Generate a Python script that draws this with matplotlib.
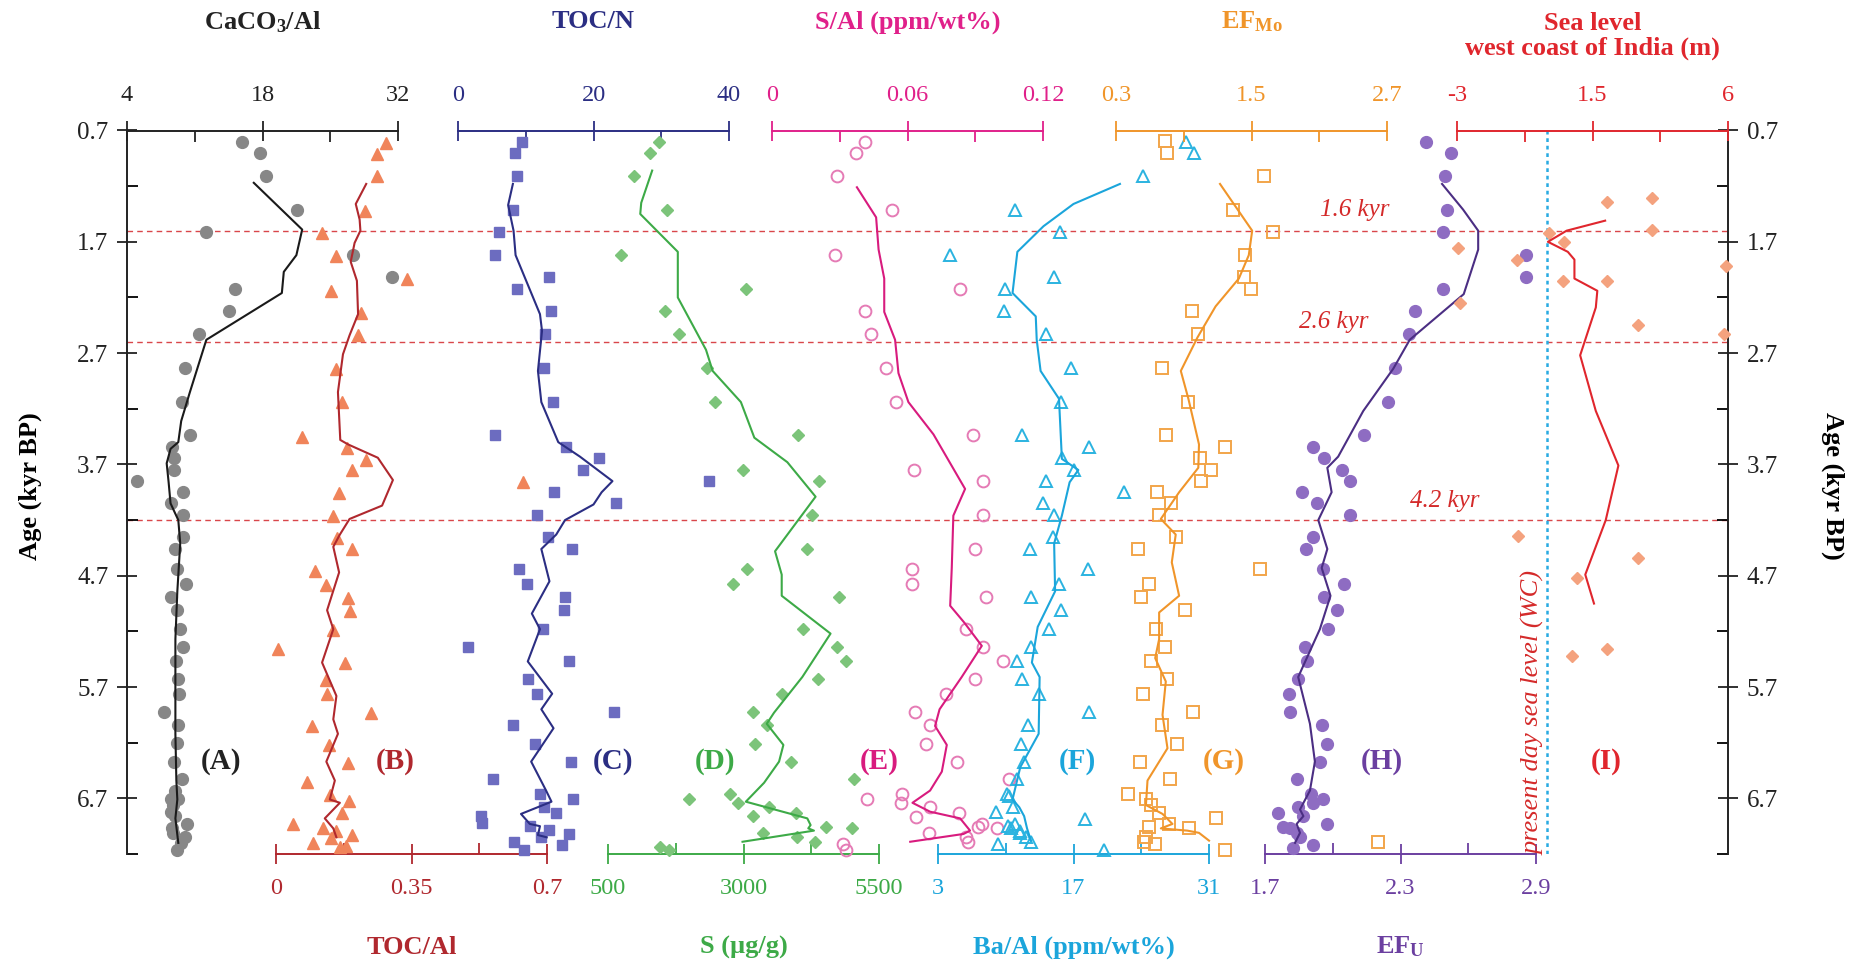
import matplotlib
matplotlib.use('Agg')
import matplotlib.pyplot as plt
import matplotlib.ticker as mticker

plt.rcParams['font.family'] = ['Liberation Serif', 'DejaVu Serif']
plt.rcParams['mathtext.fontset'] = 'custom'
plt.rcParams['mathtext.rm'] = 'Liberation Serif'
plt.rcParams['mathtext.bf'] = 'Liberation Serif:bold'
plt.rcParams['mathtext.it'] = 'Liberation Serif:italic'

# ---------------- data (age in kyr BP) ----------------
# (A) CaCO3/Al
caco3_age = [0.80, 0.90, 1.11, 1.41, 1.61, 1.82, 2.02, 2.12, 2.32, 2.53, 2.83, 3.14,
             3.44, 3.54, 3.64, 3.75, 3.85, 3.95, 4.05, 4.15, 4.35, 4.46, 4.64, 4.77,
             4.89, 5.01, 5.18, 5.34, 5.47, 5.63, 5.76, 5.92, 6.04, 6.20, 6.37, 6.53,
             6.63, 6.71, 6.71, 6.76, 6.82, 6.86, 6.93, 6.97, 7.01, 7.05, 7.10, 7.16]
caco3_val = [15.9, 17.7, 18.4, 21.6, 12.2, 27.4, 31.4, 15.2, 14.5, 11.4, 10.0, 9.7,
             10.5, 8.6, 8.9, 8.9, 5.0, 9.8, 8.5, 9.8, 9.8, 9.0, 9.2, 10.1,
             8.5, 9.2, 9.5, 9.8, 9.1, 9.3, 9.4, 7.8, 9.3, 9.2, 8.9, 9.7,
             9.0, 8.5, 9.3, 8.8, 8.5, 9.0, 10.2, 8.7, 8.8, 10.0, 9.6, 9.2]
caco3_line_age = [1.17, 1.59, 1.82, 1.97, 2.16, 2.58, 3.05, 3.31, 3.50, 3.56, 3.69, 3.86,
                  4.05, 4.20, 4.41, 4.84, 5.27, 5.70, 6.12, 6.54, 6.71, 6.88, 7.10]
caco3_line_val = [17.1, 22.1, 21.5, 20.2, 20.0, 12.2, 10.5, 9.6, 9.3, 8.5, 8.1, 8.3,
                  8.5, 9.3, 9.5, 9.2, 9.0, 9.0, 9.0, 9.1, 9.2, 9.0, 9.3]

# (B) TOC/Al
tocal_age = [0.81, 0.91, 1.11, 1.42, 1.62, 1.83, 2.03, 2.14, 2.34, 2.54, 2.84, 3.14,
             3.45, 3.55, 3.66, 3.75, 3.86, 3.96, 4.16, 4.36, 4.46, 4.66, 4.78, 4.90,
             5.02, 5.19, 5.36, 5.48, 5.64, 5.76, 5.93, 6.05, 6.22, 6.38, 6.55, 6.67,
             6.72, 6.83, 6.93, 6.97, 6.99, 7.03, 7.06, 7.10, 7.13, 7.14]
tocal_val = [0.285, 0.261, 0.262, 0.229, 0.119, 0.154, 0.338, 0.142, 0.220, 0.212, 0.156, 0.171,
             0.068, 0.184, 0.233, 0.196, 0.638, 0.163, 0.148, 0.158, 0.196, 0.100, 0.128, 0.186,
             0.190, 0.148, 0.004, 0.179, 0.130, 0.132, 0.246, 0.093, 0.136, 0.186, 0.081, 0.139,
             0.188, 0.171, 0.043, 0.122, 0.156, 0.196, 0.143, 0.096, 0.182, 0.165]
tocal_line_age = [1.18, 1.36, 1.50, 1.60, 1.71, 1.88, 2.05, 2.35, 2.54, 2.71, 3.05, 3.48,
                  3.52, 3.64, 3.84, 4.07, 4.19, 4.33, 4.44, 4.67, 5.01, 5.18, 5.48, 5.78,
                  5.99, 6.12, 6.37, 6.54, 6.71, 6.74, 6.88, 6.97, 7.05]
tocal_line_val = [0.233, 0.206, 0.216, 0.218, 0.203, 0.193, 0.209, 0.212, 0.190, 0.173, 0.160, 0.166,
                  0.186, 0.263, 0.302, 0.274, 0.190, 0.165, 0.148, 0.163, 0.132, 0.148, 0.119, 0.156,
                  0.148, 0.160, 0.130, 0.152, 0.139, 0.165, 0.126, 0.148, 0.156]

# (C) TOC/N
tocn_age = [0.80, 0.90, 1.11, 1.41, 1.61, 1.82, 2.02, 2.12, 2.32, 2.53, 2.83, 3.14,
            3.44, 3.54, 3.64, 3.75, 3.85, 3.95, 4.05, 4.15, 4.35, 4.46, 4.64, 4.77,
            4.89, 5.01, 5.18, 5.34, 5.47, 5.63, 5.76, 5.92, 6.04, 6.21, 6.37, 6.53,
            6.66, 6.71, 6.78, 6.83, 6.86, 6.92, 6.95, 6.98, 7.02, 7.05, 7.09, 7.12, 7.16]
tocn_val = [9.5, 8.4, 8.7, 8.1, 6.1, 5.5, 13.5, 8.7, 13.7, 12.9, 12.7, 14.0,
            5.4, 15.9, 20.8, 18.4, 37.1, 14.1, 23.3, 11.7, 13.3, 16.9, 9.0, 10.2,
            15.8, 15.6, 12.6, 1.5, 16.4, 10.4, 11.6, 23.0, 8.1, 11.3, 16.7, 5.2,
            12.1, 17.0, 12.7, 14.4, 3.4, 3.6, 10.7, 13.4, 16.4, 12.3, 8.3, 15.3, 9.7]
tocn_line_age = [1.18, 1.37, 1.60, 1.82, 2.35, 2.50, 2.86, 3.14, 3.50, 3.63, 3.85, 3.95,
                 4.06, 4.20, 4.33, 4.46, 4.75, 5.04, 5.18, 5.47, 5.76, 5.90, 6.07, 6.37,
                 6.63, 6.73, 6.84, 6.93, 6.95, 7.03, 7.05]
tocn_line_val = [8.1, 7.4, 8.2, 8.5, 12.1, 12.4, 11.8, 12.3, 14.8, 18.0, 22.8, 21.2,
                 20.0, 15.8, 14.5, 12.3, 13.5, 10.9, 12.1, 10.3, 13.9, 12.3, 14.1, 10.8,
                 13.0, 13.8, 9.3, 10.6, 12.1, 11.8, 13.1]

# (D) S (ug/g)
s_age = [0.80, 0.90, 1.11, 1.41, 1.82, 2.12, 2.32, 2.53, 2.83, 3.14, 3.44, 3.75,
         3.85, 4.15, 4.46, 4.64, 4.77, 4.89, 5.18, 5.34, 5.47, 5.63, 5.76, 5.92,
         6.04, 6.21, 6.37, 6.53, 6.66, 6.71, 6.74, 6.78, 6.83, 6.86, 6.96, 6.97,
         7.01, 7.05, 7.09, 7.14, 7.16]
s_val = [1450, 1266, 978, 1585, 733, 3044, 1548, 1818, 2321, 2480, 4011, 2995,
         4392, 4257, 4165, 3068, 2811, 4759, 4103, 4729, 4894, 4379, 3705, 3167,
         3429, 3216, 3870, 5035, 2750, 1990, 2903, 3472, 3962, 3170, 4526, 5005,
         3362, 3993, 4318, 1462, 1622]
s_line_age = [1.06, 1.35, 1.45, 1.79, 2.20, 2.67, 2.86, 3.14, 3.46, 3.68, 3.99, 4.48,
              4.69, 4.88, 5.22, 5.61, 5.93, 6.03, 6.22, 6.37, 6.56, 6.73, 6.88, 6.94,
              6.97, 6.99, 7.09]
s_line_val = [1315, 1113, 1095, 1788, 1788, 2308, 2431, 2952, 3200, 3809, 4330, 3582,
              3705, 3705, 4606, 4085, 3564, 3429, 3736, 3656, 3380, 3043, 4177, 4238,
              4195, 4300, 2982]

# (E) S/Al (ppm/wt%)
sal_age = [0.80, 0.90, 1.11, 1.41, 1.82, 2.12, 2.32, 2.53, 2.83, 3.14, 3.44, 3.75,
           3.85, 4.15, 4.46, 4.64, 4.77, 4.89, 5.18, 5.34, 5.47, 5.63, 5.76, 5.92,
           6.04, 6.21, 6.37, 6.53, 6.66, 6.71, 6.74, 6.78, 6.83, 6.87, 6.93, 6.96,
           6.97, 7.01, 7.05, 7.09, 7.11, 7.16]
sal_val = [0.0410, 0.0373, 0.0290, 0.0531, 0.0280, 0.0833, 0.0410, 0.0438, 0.0506, 0.0550, 0.0888, 0.0630,
           0.0936, 0.0933, 0.0898, 0.0619, 0.0619, 0.0948, 0.0859, 0.0936, 0.1022, 0.0899, 0.0771, 0.0631,
           0.0700, 0.0680, 0.0818, 0.1050, 0.0575, 0.0420, 0.0572, 0.0700, 0.0826, 0.0638, 0.0929, 0.0914,
           0.0998, 0.0696, 0.0858, 0.0867, 0.0314, 0.0329]
sal_line_age = [1.21, 1.48, 1.77, 2.03, 2.33, 2.58, 2.88, 3.14, 3.43, 3.92, 4.16, 4.63,
                4.97, 5.12, 5.33, 5.61, 5.90, 6.05, 6.22, 6.46, 6.63, 6.74, 6.82, 6.88,
                6.99, 7.02, 7.09]
sal_line_val = [0.0376, 0.0461, 0.0472, 0.0497, 0.0497, 0.0545, 0.0560, 0.0604, 0.0715, 0.0855, 0.0803, 0.0796,
                0.0789, 0.0851, 0.0929, 0.0840, 0.0742, 0.0722, 0.0774, 0.0752, 0.0700, 0.0622, 0.0700, 0.0833,
                0.0877, 0.0848, 0.0612]

# (F) Ba/Al (ppm/wt%)
baal_age = [0.80, 0.90, 1.11, 1.41, 1.61, 1.82, 2.02, 2.12, 2.32, 2.53, 2.83, 3.14,
            3.44, 3.54, 3.64, 3.75, 3.85, 3.95, 4.05, 4.15, 4.35, 4.46, 4.64, 4.77,
            4.89, 5.01, 5.18, 5.34, 5.47, 5.63, 5.76, 5.92, 6.04, 6.21, 6.37, 6.53,
            6.66, 6.68, 6.78, 6.82, 6.89, 6.93, 6.95, 6.97, 6.99, 7.01, 7.05, 7.09,
            7.11, 7.16]
baal_val = [28.6, 29.5, 24.2, 11.0, 15.6, 4.2, 15.0, 9.9, 9.8, 14.2, 16.7, 15.7,
            11.7, 18.6, 15.8, 17.0, 14.2, 22.2, 13.8, 15.0, 14.9, 12.5, 18.5, 15.5,
            12.6, 15.7, 14.5, 12.6, 11.2, 11.7, 13.4, 18.6, 12.3, 11.6, 11.9, 11.2,
            10.1, 10.3, 10.8, 9.0, 18.2, 11.0, 10.2, 10.5, 11.5, 11.5, 12.1, 12.6,
            9.2, 20.1]
baal_line_age = [1.18, 1.36, 1.56, 1.79, 2.16, 2.37, 2.58, 2.86, 3.11, 3.65, 3.75, 3.86,
                 4.16, 4.41, 4.84, 5.16, 5.48, 5.61, 6.12, 6.42, 6.71, 6.78, 6.86, 6.97, 7.08]
baal_line_val = [21.8, 17.0, 13.9, 11.2, 10.7, 13.1, 13.2, 13.6, 15.5, 15.8, 17.5, 16.6,
                 15.8, 15.0, 15.1, 13.3, 12.7, 13.5, 13.4, 11.5, 10.7, 11.4, 11.9, 12.2, 12.6]

# (G) EF Mo
efmo_age = [0.79, 0.90, 1.11, 1.41, 1.61, 1.82, 2.02, 2.12, 2.32, 2.53, 2.83, 3.14,
            3.44, 3.54, 3.64, 3.75, 3.85, 3.95, 4.05, 4.15, 4.35, 4.46, 4.64, 4.77,
            4.89, 5.01, 5.18, 5.34, 5.47, 5.63, 5.76, 5.92, 6.04, 6.21, 6.37, 6.53,
            6.66, 6.71, 6.76, 6.83, 6.88, 6.93, 6.96, 6.97, 7.05, 7.09, 7.09, 7.11, 7.16]
efmo_val = [0.732, 0.756, 1.609, 1.338, 1.688, 1.441, 1.438, 1.497, 0.976, 1.026, 0.703, 0.941,
            0.741, 1.265, 1.041, 1.144, 1.050, 0.662, 0.785, 0.682, 0.829, 0.491, 1.579, 0.588,
            0.521, 0.909, 0.653, 0.732, 0.609, 0.756, 0.541, 0.982, 0.703, 0.844, 0.512, 0.776,
            0.409, 0.565, 0.609, 0.682, 1.188, 0.771, 0.594, 0.947, 0.565, 0.550, 2.62, 0.644, 1.262]
efmo_line_age = [1.18, 1.60, 1.82, 2.03, 2.28, 2.56, 2.86, 3.11, 3.52, 3.73, 3.95, 4.19,
                 4.33, 4.58, 4.88, 5.03, 5.27, 5.44, 5.65, 5.95, 6.25, 6.54, 6.76, 6.84,
                 6.93, 6.97, 6.99, 7.01, 7.08]
efmo_line_val = [1.221, 1.506, 1.476, 1.388, 1.182, 1.021, 0.874, 0.941, 1.035, 1.029, 0.859, 0.697,
                 0.829, 0.794, 0.859, 0.682, 0.682, 0.647, 0.741, 0.712, 0.756, 0.579, 0.565, 0.712,
                 0.800, 0.697, 0.932, 1.035, 1.124]

# (H) EF U
efu_age = [0.80, 0.90, 1.11, 1.41, 1.61, 1.82, 2.02, 2.12, 2.32, 2.53, 2.83, 3.14,
           3.44, 3.54, 3.64, 3.75, 3.85, 3.95, 4.05, 4.15, 4.35, 4.46, 4.64, 4.77,
           4.89, 5.01, 5.18, 5.34, 5.47, 5.63, 5.76, 5.92, 6.04, 6.21, 6.37, 6.53,
           6.66, 6.71, 6.74, 6.78, 6.83, 6.86, 6.93, 6.96, 6.97, 7.01, 7.05, 7.12, 7.15]
efu_val = [2.411, 2.524, 2.498, 2.508, 2.489, 2.854, 2.857, 2.489, 2.366, 2.338, 2.276, 2.245,
           2.139, 1.911, 1.961, 2.042, 2.076, 1.864, 1.929, 2.076, 1.911, 1.881, 1.955, 2.051,
           1.961, 2.017, 1.977, 1.877, 1.884, 1.847, 1.808, 1.811, 1.954, 1.973, 1.943, 1.843,
           1.903, 1.958, 1.914, 1.847, 1.759, 1.870, 1.973, 1.778, 1.811, 1.840, 1.855, 1.914, 1.825]
efu_line_age = [1.18, 1.41, 1.60, 1.77, 2.17, 2.58, 2.84, 3.22, 3.63, 3.73, 3.95, 4.20,
                4.46, 4.63, 4.88, 5.18, 5.61, 6.03, 6.37, 6.63, 6.80, 6.86, 6.93, 7.01, 7.10]
efu_line_val = [2.484, 2.577, 2.644, 2.644, 2.580, 2.341, 2.268, 2.135, 2.024, 1.976, 1.995, 1.936,
                1.976, 1.951, 1.990, 1.943, 1.847, 1.899, 1.921, 1.899, 1.855, 1.870, 1.840, 1.855, 1.833]

# (I) sea level, west coast of India (m)
sea_age = [1.31, 1.34, 1.59, 1.62, 1.70, 1.76, 1.86, 1.92, 2.05, 2.05, 2.25, 2.45,
           2.53, 4.34, 4.54, 4.72, 5.36, 5.42]
sea_val = [3.48, 1.99, 3.48, 0.04, 0.55, -2.98, -1.0, 5.95, 0.51, 1.99, -2.91, 3.0,
           5.87, -0.97, 3.0, 0.98, 1.99, 0.81]
sea_line_age = [1.51, 1.60, 1.70, 1.79, 1.86, 2.03, 2.14, 2.29, 2.72, 3.22, 3.71, 4.20, 4.69, 4.95]
sea_line_val = [1.92, 0.64, 0.02, 0.68, 0.90, 0.90, 1.66, 1.61, 1.09, 1.61, 2.36, 1.94, 1.26, 1.55]

event_ages = [1.6, 2.6, 4.2]
event_labels = ['1.6 kyr', '2.6 kyr', '4.2 kyr']
age_ticks = [0.7, 1.7, 2.7, 3.7, 4.7, 5.7, 6.7]

# ---------------- layout ----------------
W, H = 1860, 967
TOP_PX, BOT_PX = 130.5, 854.0   # rows of age 0.7 and 7.2
PANEL_W = 271
AGE_LIM = (7.2, 0.7)
TICK_FS = 17.5
TITLE_FS = 19

fig = plt.figure(figsize=(W / 100, H / 100), dpi=100)
ax_h = (BOT_PX - TOP_PX) / H
ax_b = 1 - BOT_PX / H

# main age frame
ax0 = fig.add_axes([127 / W, ax_b, (1728 - 127) / W, ax_h])
ax0.set_xlim(0, 1)
ax0.set_ylim(AGE_LIM)
ax0.spines['top'].set_visible(False)
ax0.spines['bottom'].set_visible(False)
for s in ('left', 'right'):
    ax0.spines[s].set_color('#222222')
    ax0.spines[s].set_linewidth(1.4)
ax0.set_xticks([])
ax0.set_yticks(age_ticks)
ax0.set_yticks([a + 0.5 for a in age_ticks], minor=True)
ax0.yaxis.set_major_formatter(mticker.FuncFormatter(lambda v, p: f'{v:.1f}'))
ax0.tick_params(axis='y', which='major', left=True, right=True, labelleft=True, labelright=True,
                direction='inout', length=15, width=1.3, labelsize=TICK_FS + 0.5, pad=6, colors='#222222')
ax0.tick_params(axis='y', which='minor', left=True, right=True, direction='in', length=8, width=1.3)

red_dash = '#D9464A'
for a in event_ages:
    ax0.axhline(a, color=red_dash, lw=1.0, ls=(0, (4, 3)), zorder=1)
# label positions (axes fraction, age)
for lab, xf, yl in zip(event_labels, [0.767, 0.754, 0.823], [1.41, 2.42, 4.03]):
    ax0.text(xf, yl, lab, color='#D42A2A', style='italic', fontsize=18, ha='center', va='center')

fig.text(30 / W, 1 - 486 / H, 'Age (kyr BP)', rotation=90, fontsize=19, fontweight='bold',
         ha='center', va='center')
fig.text(1833 / W, 1 - 486 / H, 'Age (kyr BP)', rotation=270, fontsize=19, fontweight='bold',
         ha='center', va='center')


def panel(x_px, lo, hi, side, color, title):
    ax = fig.add_axes([x_px / W, ax_b, PANEL_W / W, ax_h])
    ax.patch.set_visible(False)
    ax.set_xlim(lo, hi)
    ax.set_ylim(AGE_LIM)
    for s in ('left', 'right', 'top', 'bottom'):
        ax.spines[s].set_visible(s == side)
    ax.spines[side].set_color(color)
    ax.spines[side].set_linewidth(1.4)
    step = (hi - lo) / 4
    ax.set_xticks([lo, lo + 2 * step, hi])
    ax.set_xticks([lo + step, lo + 3 * step], minor=True)
    ax.xaxis.set_major_formatter(mticker.FuncFormatter(lambda v, p: f'{round(v, 4):g}'))
    top = side == 'top'
    ax.tick_params(axis='x', which='both', top=top, labeltop=top, bottom=not top, labelbottom=not top)
    ax.tick_params(axis='x', which='major', direction='inout', length=15, width=1.3, color=color,
                   labelcolor=color, labelsize=TICK_FS, pad=10)
    ax.tick_params(axis='x', which='minor', direction='in', length=8, width=1.3, color=color)
    ax.set_yticks([])
    cx = (x_px + PANEL_W / 2) / W
    if top:
        ty = 36 if '\n' in title else 22
        fig.text(cx, 1 - ty / H, title, color=color, fontsize=TITLE_FS, fontweight='bold',
                 ha='center', va='center', linespacing=1.1)
    else:
        fig.text(cx, 1 - 947 / H, title, color=color, fontsize=TITLE_FS, fontweight='bold',
                 ha='center', va='center')
    return ax


ax_a = panel(127, 4, 32, 'top', '#222222', r'CaCO$_\mathbf{3}$/Al')
ax_b2 = panel(276, 0, 0.7, 'bottom', '#B0282E', 'TOC/Al')
ax_c = panel(458, 0, 40, 'top', '#2B2E83', 'TOC/N')
ax_d = panel(608, 500, 5500, 'bottom', '#3DAA47', 'S (µg/g)')
ax_e = panel(772, 0, 0.12, 'top', '#E0208A', 'S/Al (ppm/wt%)')
ax_f = panel(938, 3, 31, 'bottom', '#1BA5DB', 'Ba/Al (ppm/wt%)')
ax_g = panel(1116, 0.3, 2.7, 'top', '#F0952A', r'EF$_\mathbf{Mo}$')
ax_h2 = panel(1265, 1.7, 2.9, 'bottom', '#6B3FA0', r'EF$_\mathbf{U}$')
ax_i = panel(1457, -3, 6, 'top', '#E0262D', 'Sea level\nwest coast of India (m)')

kw = dict(ls='none', clip_on=False, zorder=3)
lkw = dict(lw=1.5, clip_on=False, zorder=4)

ax_a.plot(caco3_val, caco3_age, 'o', ms=8.5, color='#878787', **kw)
ax_a.plot(caco3_line_val, caco3_line_age, color='#1a1a1a', **lkw)

ax_b2.plot(tocal_val, tocal_age, '^', ms=9, color='#F0845A', **kw)
ax_b2.plot(tocal_line_val, tocal_line_age, color='#B0282E', **lkw)

ax_c.plot(tocn_val, tocn_age, 's', ms=6.5, color='#6C6CC0', **kw)
ax_c.plot(tocn_line_val, tocn_line_age, color='#2B2E83', **lkw)

ax_d.plot(s_val, s_age, 'D', ms=6.5, color='#7CC47A', **kw)
ax_d.plot(s_line_val, s_line_age, color='#3DAA47', **lkw)

ax_e.plot(sal_val, sal_age, 'o', ms=8.5, mfc='none', mec='#E57BB5', mew=1.4, **kw)
ax_e.plot(sal_line_val, sal_line_age, color='#D81B7E', **lkw)

ax_f.plot(baal_val, baal_age, '^', ms=8.5, mfc='none', mec='#2BB3E0', mew=1.4, **kw)
ax_f.plot(baal_line_val, baal_line_age, color='#1BA5DB', **lkw)

ax_g.plot(efmo_val, efmo_age, 's', ms=8.5, mfc='none', mec='#F2A54A', mew=1.4, **kw)
ax_g.plot(efmo_line_val, efmo_line_age, color='#F0952A', **lkw)

ax_h2.plot(efu_val, efu_age, 'o', ms=8.5, color='#8E6CC2', **kw)
ax_h2.plot(efu_line_val, efu_line_age, color='#4B2E83', **lkw)

ax_i.axvline(0, color='#29ABE2', lw=1.8, ls=(0, (1.5, 1.5)), zorder=2)
ax_i.plot(sea_val, sea_age, 'D', ms=6.5, color='#F4A27E', **kw)
ax_i.plot(sea_line_val, sea_line_age, color='#E0262D', **lkw)
ax_i.text(-0.45, 5.93, 'present day sea level (WC)', rotation=90, style='italic', color='#D42A2A',
          fontsize=19, ha='center', va='center')

# panel letters
letters = ['(A)', '(B)', '(C)', '(D)', '(E)', '(F)', '(G)', '(H)', '(I)']
letter_x = [0.0585, 0.1674, 0.3036, 0.3673, 0.4698, 0.5934, 0.6852, 0.7839, 0.9238]
letter_c = ['#222222', '#B0282E', '#2B2E83', '#3DAA47', '#D81B7E', '#1BA5DB', '#F0952A', '#6B3FA0', '#E0262D']
for t, xf, c in zip(letters, letter_x, letter_c):
    ax0.text(xf, 6.37, t, color=c, fontsize=21, fontweight='bold', ha='center', va='center')

fig.savefig('out.png', dpi=100)
